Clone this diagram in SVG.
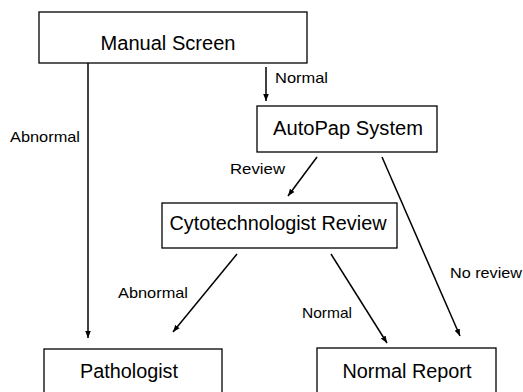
<svg xmlns="http://www.w3.org/2000/svg" width="523" height="392" viewBox="0 0 523 392">
<defs>
<style>
.box{fill:#fff;stroke:#000;stroke-width:1.3}
.t{font-family:"Liberation Sans",Arial,sans-serif;font-size:20px;fill:#000;text-anchor:middle}
.l{font-family:"Liberation Sans",Arial,sans-serif;font-size:15px;fill:#000}
.c{stroke:#000;stroke-width:1.5;fill:none;marker-end:url(#ah)}
.cn{stroke:#000;stroke-width:1.5;fill:none}
</style>
<marker id="ah" viewBox="0 0 10 10" refX="10" refY="5" markerWidth="7" markerHeight="7" markerUnits="userSpaceOnUse" orient="auto">
<path d="M0,1 L10,5 L0,9 Z" fill="#000"/>
</marker>
</defs>
<rect width="523" height="392" fill="#fff"/>
<g id="connectors">
<line class="c" x1="88" y1="63" x2="88" y2="338"/>
<line class="c" x1="266" y1="67" x2="266" y2="101"/>
<line class="c" x1="317" y1="157" x2="288" y2="196"/>
<line class="c" x1="382" y1="157" x2="460" y2="336"/>
<line class="c" x1="237" y1="254" x2="173" y2="332"/>
<line class="c" x1="331" y1="254" x2="387" y2="343"/>
</g>
<g id="labels">
<text class="l" x="10" y="142" textLength="70" lengthAdjust="spacingAndGlyphs">Abnormal</text>
<text class="l" x="275" y="83" textLength="53" lengthAdjust="spacingAndGlyphs">Normal</text>
<text class="l" x="230" y="174" textLength="55" lengthAdjust="spacingAndGlyphs">Review</text>
<text class="l" x="450" y="278" textLength="72" lengthAdjust="spacingAndGlyphs">No review</text>
<text class="l" x="118" y="298" textLength="70" lengthAdjust="spacingAndGlyphs">Abnormal</text>
<text class="l" x="302" y="318" textLength="50" lengthAdjust="spacingAndGlyphs">Normal</text>
</g>
<g id="manual-screen">
<rect class="box" x="39" y="12" width="268" height="51"/>
<text class="t" x="168" y="50" textLength="135" lengthAdjust="spacingAndGlyphs">Manual Screen</text>
</g>
<g id="autopap-system">
<rect class="box" x="257" y="106" width="180" height="46"/>
<text class="t" x="348" y="135" textLength="150" lengthAdjust="spacingAndGlyphs">AutoPap System</text>
</g>
<g id="cytotechnologist-review">
<rect class="box" x="162" y="203" width="235" height="45"/>
<text class="t" x="278" y="230" textLength="217" lengthAdjust="spacingAndGlyphs">Cytotechnologist Review</text>
</g>
<g id="pathologist">
<rect class="box" x="44" y="349" width="178" height="60"/>
<text class="t" x="129" y="378" textLength="98" lengthAdjust="spacingAndGlyphs">Pathologist</text>
</g>
<g id="normal-report">
<rect class="box" x="317" y="348" width="179" height="60"/>
<text class="t" x="407" y="378" textLength="129" lengthAdjust="spacingAndGlyphs">Normal Report</text>
</g>
</svg>
